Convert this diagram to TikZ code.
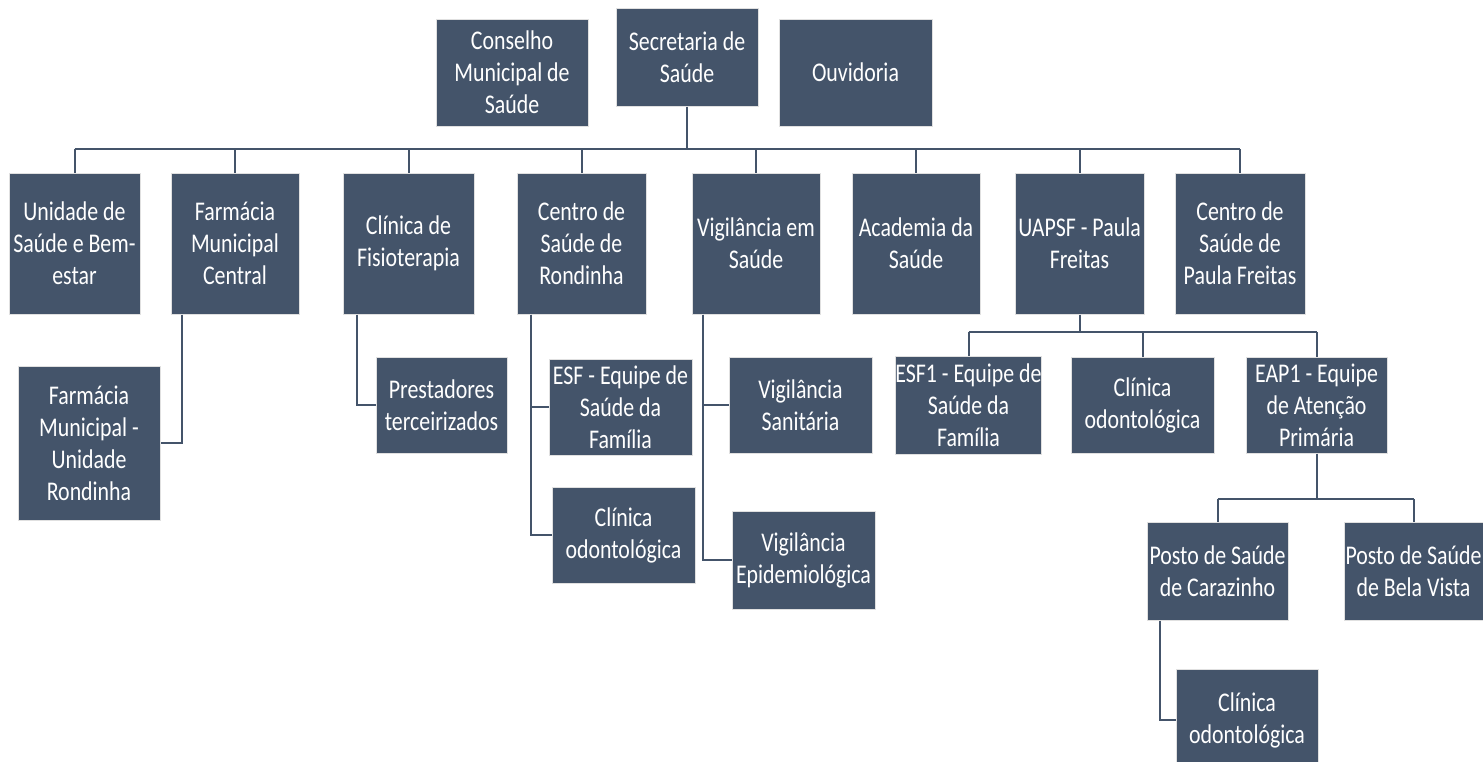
\documentclass[tikz,border=0pt]{standalone}
\usepackage{fontspec}
\setmainfont{Carlito}[FakeStretch=0.81]
\definecolor{boxc}{HTML}{44546A}
\definecolor{linec}{HTML}{44546A}
\tikzset{
  org/.style={fill=boxc, draw=black!12, line width=1pt, text=white, align=center,
    inner sep=0pt, font=\fontsize{27}{32}\selectfont},
  conn/.style={draw=linec, line width=2pt},
}
\newcommand\orgbox[6]{\node[org, minimum width={(#4-#2)*1pt}, minimum height={(#5-#3)*1pt}]
  (#1) at ({(#2+#4)/2},{(#3+#5)/2}) {#6};}
\begin{document}
\begin{tikzpicture}[x=1pt,y=-1pt]
\useasboundingbox (0,0) rectangle (1483,761);
% top row
\orgbox{cons}{436}{19}{588}{126}{Conselho\\Municipal de\\Saúde}
\orgbox{sec}{616}{8}{758}{106}{Secretaria de\\Saúde}
\orgbox{ouv}{779}{19}{932}{126}{Ouvidoria}
% second row
\orgbox{uni}{9}{173}{140}{314}{Unidade de\\Saúde e Bem-\\estar}
\orgbox{farm}{171}{173}{299}{314}{Farmácia\\Municipal\\Central}
\orgbox{clin}{343}{173}{474}{314}{Clínica de\\Fisioterapia}
\orgbox{crond}{517}{173}{646}{314}{Centro de\\Saúde de\\Rondinha}
\orgbox{vig}{692}{173}{820}{314}{Vigilância em\\Saúde}
\orgbox{acad}{852}{173}{980}{314}{Academia da\\Saúde}
\orgbox{uapsf}{1015}{173}{1144}{314}{UAPSF - Paula\\Freitas}
\orgbox{cpf}{1175}{173}{1305}{314}{Centro de\\Saúde de\\Paula Freitas}
% children
\orgbox{farmU}{18}{366}{160}{520}{Farmácia\\Municipal -\\Unidade\\Rondinha}
\orgbox{prest}{376}{357}{507}{453}{Prestadores\\terceirizados}
\orgbox{esf}{549}{359}{692}{455}{ESF - Equipe de\\Saúde da\\Família}
\orgbox{codR}{552}{487}{695}{583}{Clínica\\odontológica}
\orgbox{vsan}{729}{357}{872}{453}{Vigilância\\Sanitária}
\orgbox{vepi}{732}{511}{875}{609}{Vigilância\\Epidemiológica}
\orgbox{esf1}{897}{356}{1040}{454}{ESF1 - Equipe de\\Saúde da\\Família}
\orgbox{cod1}{1071}{357}{1214}{453}{Clínica\\odontológica}
\orgbox{eap1}{1246}{357}{1387}{453}{EAP1 - Equipe\\de Atenção\\Primária}
\orgbox{pc}{1147}{522}{1288}{620}{Posto de Saúde\\de Carazinho}
\orgbox{pbv}{1344}{522}{1483}{620}{Posto de Saúde\\de Bela Vista}
\orgbox{cod2}{1176}{669}{1318}{771}{Clínica\\odontológica}
% buses
\coordinate (bus1) at (0,149);
\coordinate (bus2) at (0,332);
\coordinate (bus3) at (0,499);
\draw[conn] (sec.south) -- (sec.south |- bus1);
\draw[conn] (uni.north |- bus1) -- (cpf.north |- bus1);
\foreach \n in {uni,farm,clin,crond,vig,acad,uapsf,cpf}
  \draw[conn] (\n.north) -- (\n.north |- bus1);
\draw[conn] (uapsf.south) -- (uapsf.south |- bus2);
\draw[conn] (esf1.north |- bus2) -- (eap1.north |- bus2);
\foreach \n in {esf1,cod1,eap1}
  \draw[conn] (\n.north) -- (\n.north |- bus2);
\draw[conn] (eap1.south) -- (eap1.south |- bus3);
\draw[conn] (pc.north |- bus3) -- (pbv.north |- bus3);
\foreach \n in {pc,pbv}
  \draw[conn] (\n.north) -- (\n.north |- bus3);
% side connectors
\draw[conn] (farm.south west) ++(11,0) |- (farmU.east);
\draw[conn] (clin.south west) ++(14,0) |- (prest.west);
\draw[conn] (crond.south west) ++(14,0) |- (esf.west);
\draw[conn] (crond.south west) ++(14,0) |- (codR.west);
\draw[conn] (vig.south west) ++(11,0) |- (vsan.west);
\draw[conn] (vig.south west) ++(11,0) |- (vepi.west);
\draw[conn] (pc.south west) ++(13,0) |- (cod2.west);
\end{tikzpicture}
\end{document}
